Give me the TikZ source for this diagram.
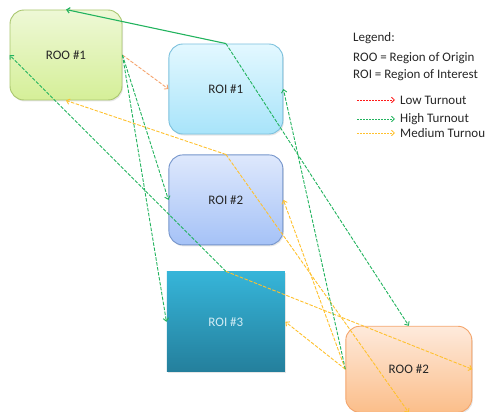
\documentclass[tikz,border=0pt]{standalone}
\usepackage{fontspec}
\setmainfont{Carlito}
\usetikzlibrary{positioning, shadows, arrows.meta}

\definecolor{roo1top}{HTML}{EEF8D6}
\definecolor{roo1bot}{HTML}{D5EF98}
\definecolor{roo1line}{HTML}{A9C66E}
\definecolor{roi1top}{HTML}{E3F8FF}
\definecolor{roi1bot}{HTML}{A8E4FA}
\definecolor{roi1line}{HTML}{7DC1DD}
\definecolor{roi2top}{HTML}{DEE8FC}
\definecolor{roi2bot}{HTML}{A5C2F7}
\definecolor{roi2line}{HTML}{7595CB}
\definecolor{roi3top}{HTML}{36B5D9}
\definecolor{roi3bot}{HTML}{247F9C}
\definecolor{roi3text}{HTML}{D2ECF4}
\definecolor{roo2top}{HTML}{FEEADC}
\definecolor{roo2bot}{HTML}{FBBE8A}
\definecolor{roo2line}{HTML}{F4A56C}
\definecolor{highgreen}{HTML}{22B35E}
\definecolor{mediumyellow}{HTML}{FFC12E}
\definecolor{lowred}{HTML}{FF1A1A}
\definecolor{loworange}{HTML}{F5A46E}

\begin{document}
\begin{tikzpicture}[
    x=1pt, y=-1pt,
    >={Straight Barb[length=3pt, width=5.5pt]},
    every node/.style={font=\fontsize{13}{15}\selectfont, text=black!85},
    region/.style={rectangle, rounded corners=14pt, inner sep=0pt, line width=0.9pt,
        minimum width=114pt, minimum height=90pt,
        drop shadow={opacity=0.2, shadow xshift=1pt, shadow yshift=-1.5pt}},
    legend/.style={inner sep=0pt},
    turnout/.style={->, line width=0.9pt, dash pattern=on 3.5pt off 1.5pt},
    high/.style={turnout, draw=highgreen},
    medium/.style={turnout, draw=mediumyellow},
    low/.style={turnout, draw=loworange},
    sample/.style={->, line width=0.8pt, dash pattern=on 2pt off 1pt, color=#1}
]

\useasboundingbox (0,0) rectangle (485,412);

% Regions
\node[region, minimum width=112pt, top color=roo1top, bottom color=roo1bot, draw=roo1line] (roo1) at (66,55) {ROO \#1};
\node[region, below right=34pt and 46pt of roo1.north east, top color=roi1top, bottom color=roi1bot, draw=roi1line] (roi1) {ROI \#1};
\node[region, below=20pt of roi1, top color=roi2top, bottom color=roi2bot, draw=roi2line] (roi2) {ROI \#2};
\node[region, sharp corners, below=26pt of roi2, minimum width=118pt, minimum height=100pt, top color=roi3top, bottom color=roi3bot, draw=none, text=roi3text] (roi3) {ROI \#3};
\node[region, below right=4pt and 60pt of roi3.east, minimum width=126pt, minimum height=86pt, top color=roo2top, bottom color=roo2bot, draw=roo2line] (roo2) {ROO \#2};

% Legend
\node[legend, anchor=base west] (legend_title) at (353,41.5) {Legend:};
\node[legend, below=20pt of legend_title.base west, anchor=base west] (legend_roo) {ROO = Region of Origin};
\node[legend, below=16.5pt of legend_roo.base west, anchor=base west] (legend_roi) {ROI = Region of Interest};

\coordinate (low_start) at (357,100);
\coordinate[right=38pt of low_start] (low_end);
\coordinate[below=19pt of low_start] (high_start);
\coordinate[right=38pt of high_start] (high_end);
\coordinate[below=14pt of high_start] (medium_start);
\coordinate[right=38pt of medium_start] (medium_end);

\draw[sample=lowred] (low_start) -- (low_end);
\draw[sample=highgreen] (high_start) -- (high_end);
\draw[sample=mediumyellow] (medium_start) -- (medium_end);
\node[legend, right=5pt of low_end] (low_text) {Low Turnout};
\node[legend, right=5pt of high_end] (high_text) {High Turnout};
\node[legend, right=5pt of medium_end] (medium_text) {Medium Turnout};

% ROI #1 edges
\draw[->, draw=highgreen, line width=1.1pt] (roi1.north) -- (roo1.north);
\draw[high] (roi1.north) -- (roo2.north);

% ROO #1 edges
\draw[low] (roo1.east) -- (roi1.west);
\draw[high] (roo1.east) -- (roi2.west);
\draw[high] (roo1.east) -- (roi3.west);

% ROI #2 and ROI #3 edges
\draw[medium] (roi2.north) -- (roo1.south);
\draw[medium] (roi2.north) -- (roo2.south);
\draw[high] (roi3.north) -- (roo1.west);
\draw[medium] (roi3.north) -- (roo2.east);

% ROO #2 edges
\draw[medium] (roo2.west) -- (roi2.east);
\draw[medium] (roo2.west) -- (roi3.east);
\draw[high] (roo2.west) -- (roi1.east);

\end{tikzpicture}
\end{document}
